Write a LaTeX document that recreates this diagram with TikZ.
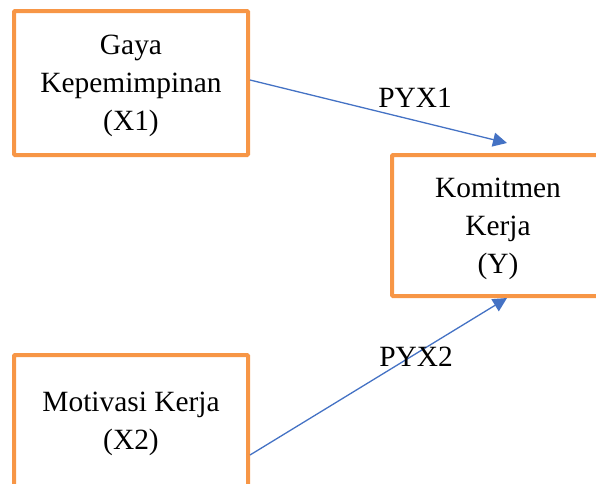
\documentclass[tikz,border=0pt]{standalone}
\usepackage{fontspec}
\setmainfont{Liberation Serif}
\usetikzlibrary{arrows.meta}
\definecolor{boxorange}{RGB}{247,150,70}
\definecolor{arrowblue}{RGB}{68,114,196}
\begin{document}
\begin{tikzpicture}[x=1pt,y=-1pt,
    box/.style={draw=boxorange, line width=4pt, rounded corners=1pt, align=center,
        font=\fontsize{29.4}{38}\selectfont},
    path/.style={draw=arrowblue, line width=1.3pt, -{Triangle[length=14pt,width=14pt]}},
    lbl/.style={font=\fontsize{29.4}{35}\selectfont}]
    \clip (0,0) rectangle (596,483);
    \node[box, minimum width=234pt, minimum height=144pt] (X1) at (131,83) {\rule{0pt}{26pt}Gaya\\Kepemimpinan\\(X1)};
    \node[box, minimum width=212pt, minimum height=141pt] (Y) at (498,225.5) {\rule{0pt}{26pt}Komitmen\\Kerja\\(Y)};
    \node[box, minimum width=234pt, minimum height=138pt] (X2) at (131,424) {Motivasi Kerja\\(X2)};
    \coordinate (t1) at (507,143);
    \coordinate (s2) at (250,455);
    \draw[path] ([yshift=3pt]X1.east) -- (t1);
    \draw[path] (s2) -- ([xshift=9pt]Y.south);
    \node[lbl] (pyx1) at (415,98) {PYX1};
    \node[lbl] (pyx2) at (416,357) {PYX2};
\end{tikzpicture}
\end{document}
